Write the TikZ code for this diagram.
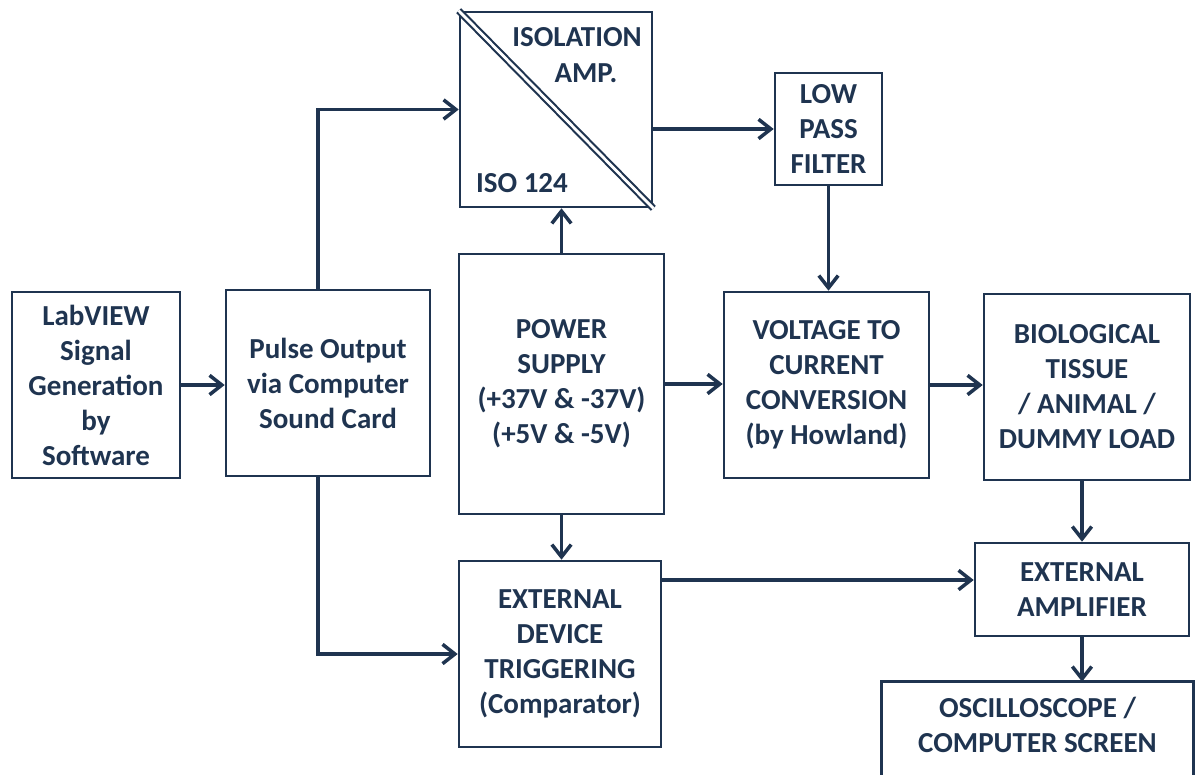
\documentclass[tikz,border=0pt]{standalone}
\usepackage{fontspec}
\setmainfont{Carlito}
\usetikzlibrary{arrows.meta,calc}
\definecolor{navy}{HTML}{1F3450}
\begin{document}
\begin{tikzpicture}[x=0.02cm,y=-0.02cm,
  bx/.style={draw=navy, line width=1.5pt, align=center, inner sep=0pt, text=navy,
    font=\fontsize{16.5}{19.9}\selectfont\bfseries},
  lbl/.style={text=navy, inner sep=0pt, font=\fontsize{16.5}{19.9}\selectfont\bfseries},
  arr/.style={draw=navy, line width=2pt, -{Straight Barb[length=7pt,width=11pt]}},
  ln/.style={draw=navy, line width=2pt}
  ]
\useasboundingbox (0,0) rectangle (1195,774);
\clip (0,0) rectangle (1195,774);
\node[bx, minimum width=3.36cm, minimum height=3.72cm] (lab) at (96,385) {LabVIEW\\Signal\\Generation\\by\\Software};
\node[bx, minimum width=4.08cm, minimum height=3.72cm] (pulse) at (328,383) {Pulse Output\\via Computer\\Sound Card};
\node[bx, minimum width=3.84cm, minimum height=3.9cm] (iso) at (556,109.5) {};
\node[bx, minimum width=2.14cm, minimum height=2.24cm] (lpf) at (828.5,129) {LOW\\PASS\\FILTER};
\node[bx, minimum width=4.1cm, minimum height=5.2cm] (power) at (561.5,384) {POWER\\SUPPLY\\(+37V \& -37V)\\(+5V \& -5V)};
\node[bx, minimum width=4.1cm, minimum height=3.72cm] (v2c) at (826.5,385) {VOLTAGE TO\\CURRENT\\CONVERSION\\(by Howland)};
\node[bx, minimum width=4.12cm, minimum height=3.72cm] (bio) at (1087,387) {BIOLOGICAL\\TISSUE\\/ ANIMAL /\\DUMMY LOAD};
\node[bx, minimum width=4.04cm, minimum height=3.72cm] (extdev) at (560,654) {EXTERNAL\\DEVICE\\TRIGGERING\\(Comparator)};
\node[bx, minimum width=4.28cm, minimum height=1.86cm] (extamp) at (1082,589.5) {EXTERNAL\\AMPLIFIER};
\node[bx, draw=none, minimum width=6.18cm, minimum height=1.68cm] (osc) at (1037.5,725) {OSCILLOSCOPE /\\COMPUTER SCREEN};
\coordinate (oscbot) at (0,800);
\draw[navy, line width=1.5pt] (osc.west |- oscbot) |- (osc.north east) -- (osc.east |- oscbot);
% isolation amplifier details
\draw[navy, line width=1.2pt, double=white, double distance=1.6pt] (iso.north west) -- (iso.south east);
\node[lbl] (isot1) at (577,37) {ISOLATION};
\node[lbl] (isot2) at (586,73) {AMP.};
\node[lbl] (isot3) at (522,183) {ISO 124};
% connectors
\draw[arr] (lab.east) -- (lab.east -| pulse.west);
\draw[arr] ($(pulse.north)+(-10,0)$) |- (iso.west);
\draw[arr] ($(pulse.south)+(-10,0)$) |- (extdev.west);
\draw[arr] (power.north) -- (power.north |- iso.south);
\draw[arr] (power.south) -- (power.south |- extdev.north);
\draw[arr] (power.east) -- (power.east -| v2c.west);
\draw[arr] (iso.east |- lpf.west) -- (lpf.west);
\draw[arr] (lpf.south) -- (lpf.south |- v2c.north);
\draw[arr] (v2c.east) -- (v2c.east -| bio.west);
\draw[arr] (extamp.north |- bio.south) -- (extamp.north);
\coordinate (trig) at (0,580);
\draw[arr] (extdev.east |- trig) -- (extamp.west |- trig);
\draw[arr] (extamp.south) -- (extamp.south |- osc.north);
\end{tikzpicture}
\end{document}
